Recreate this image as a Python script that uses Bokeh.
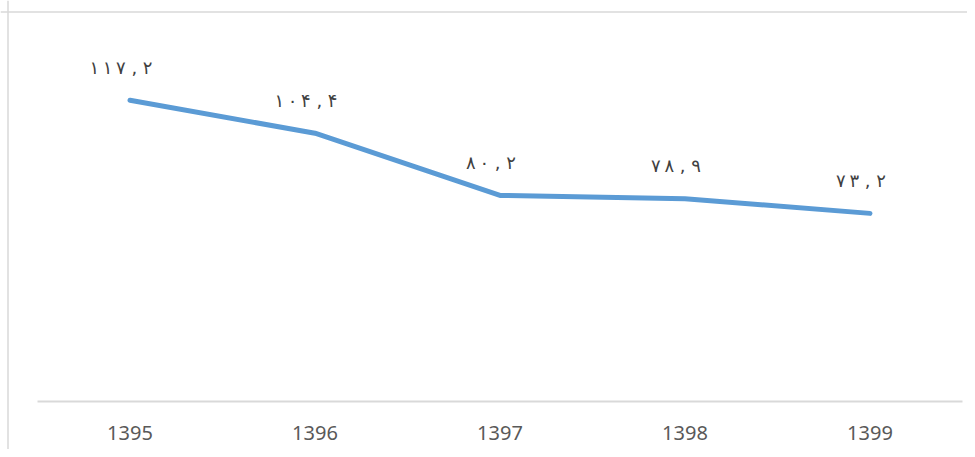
from bokeh.plotting import figure
from bokeh.models import ColumnDataSource, LinearAxis, FixedTicker, Range1d, Span
from bokeh.core.properties import value
from bokeh.embed import file_html
from bokeh.resources import INLINE

years = ["1395", "1396", "1397", "1398", "1399"]
values = [117.2, 104.4, 80.2, 78.9, 73.2]

FA = str.maketrans("0123456789", "۰۱۲۳۴۵۶۷۸۹")


def fa_label(v):
    whole, frac = f"{v:.1f}".split(".")
    return "\u2009".join(whole.translate(FA)) + " , " + frac.translate(FA)


idx = list(range(len(years)))
src = ColumnDataSource(dict(x=idx, y=values, lab=[fa_label(v) for v in values]))

W, H = 967, 449
px_per_cat = 185.0
x0 = 129.5
px_per_unit = 2.57
y0 = 401.0

xr = Range1d(-x0 / px_per_cat, (W - x0) / px_per_cat)
yr = Range1d((y0 - H) / px_per_unit, y0 / px_per_unit)

p = figure(width=W, height=H, x_range=xr, y_range=yr,
           x_axis_type=None, y_axis_type=None,
           output_backend="svg", toolbar_location=None,
           min_border_left=0, min_border_right=0,
           min_border_top=0, min_border_bottom=0)
p.outline_line_color = None
p.grid.visible = False
p.background_fill_color = "white"
p.border_fill_color = "white"

# outer chart border (top and left edges visible)
p.add_layout(Span(location=(7.5 - x0) / px_per_cat, dimension="height",
                  line_color="#d9d9d9", line_width=1.5))
p.add_layout(Span(location=(y0 - 11.5) / px_per_unit, dimension="width",
                  line_color="#d9d9d9", line_width=1.5))

ax = LinearAxis(fixed_location=0, ticker=FixedTicker(ticks=idx),
                major_label_overrides={i: y for i, y in enumerate(years)},
                bounds=(-0.5, len(years) - 0.5))
ax.axis_line_color = "#d9d9d9"
ax.axis_line_width = 2
ax.major_tick_out = 0
ax.major_tick_in = 0
ax.minor_tick_out = 0
ax.minor_tick_in = 0
ax.major_label_standoff = 24
ax.major_label_text_font = "Noto Sans"
ax.major_label_text_font_size = "20px"
ax.major_label_text_color = "#595959"
p.add_layout(ax, "below")

p.line("x", "y", source=src, line_color="#5b9bd5", line_width=5,
       line_cap="round", line_join="round")

p.text("x", "y", text="lab", source=src, x_offset=-9, y_offset=-33,
       text_align="center", text_baseline="middle",
       text_font=value("DejaVu Sans"), text_font_size="18px",
       text_color="#404040")

open("out.html", "w").write(file_html(p, INLINE))
